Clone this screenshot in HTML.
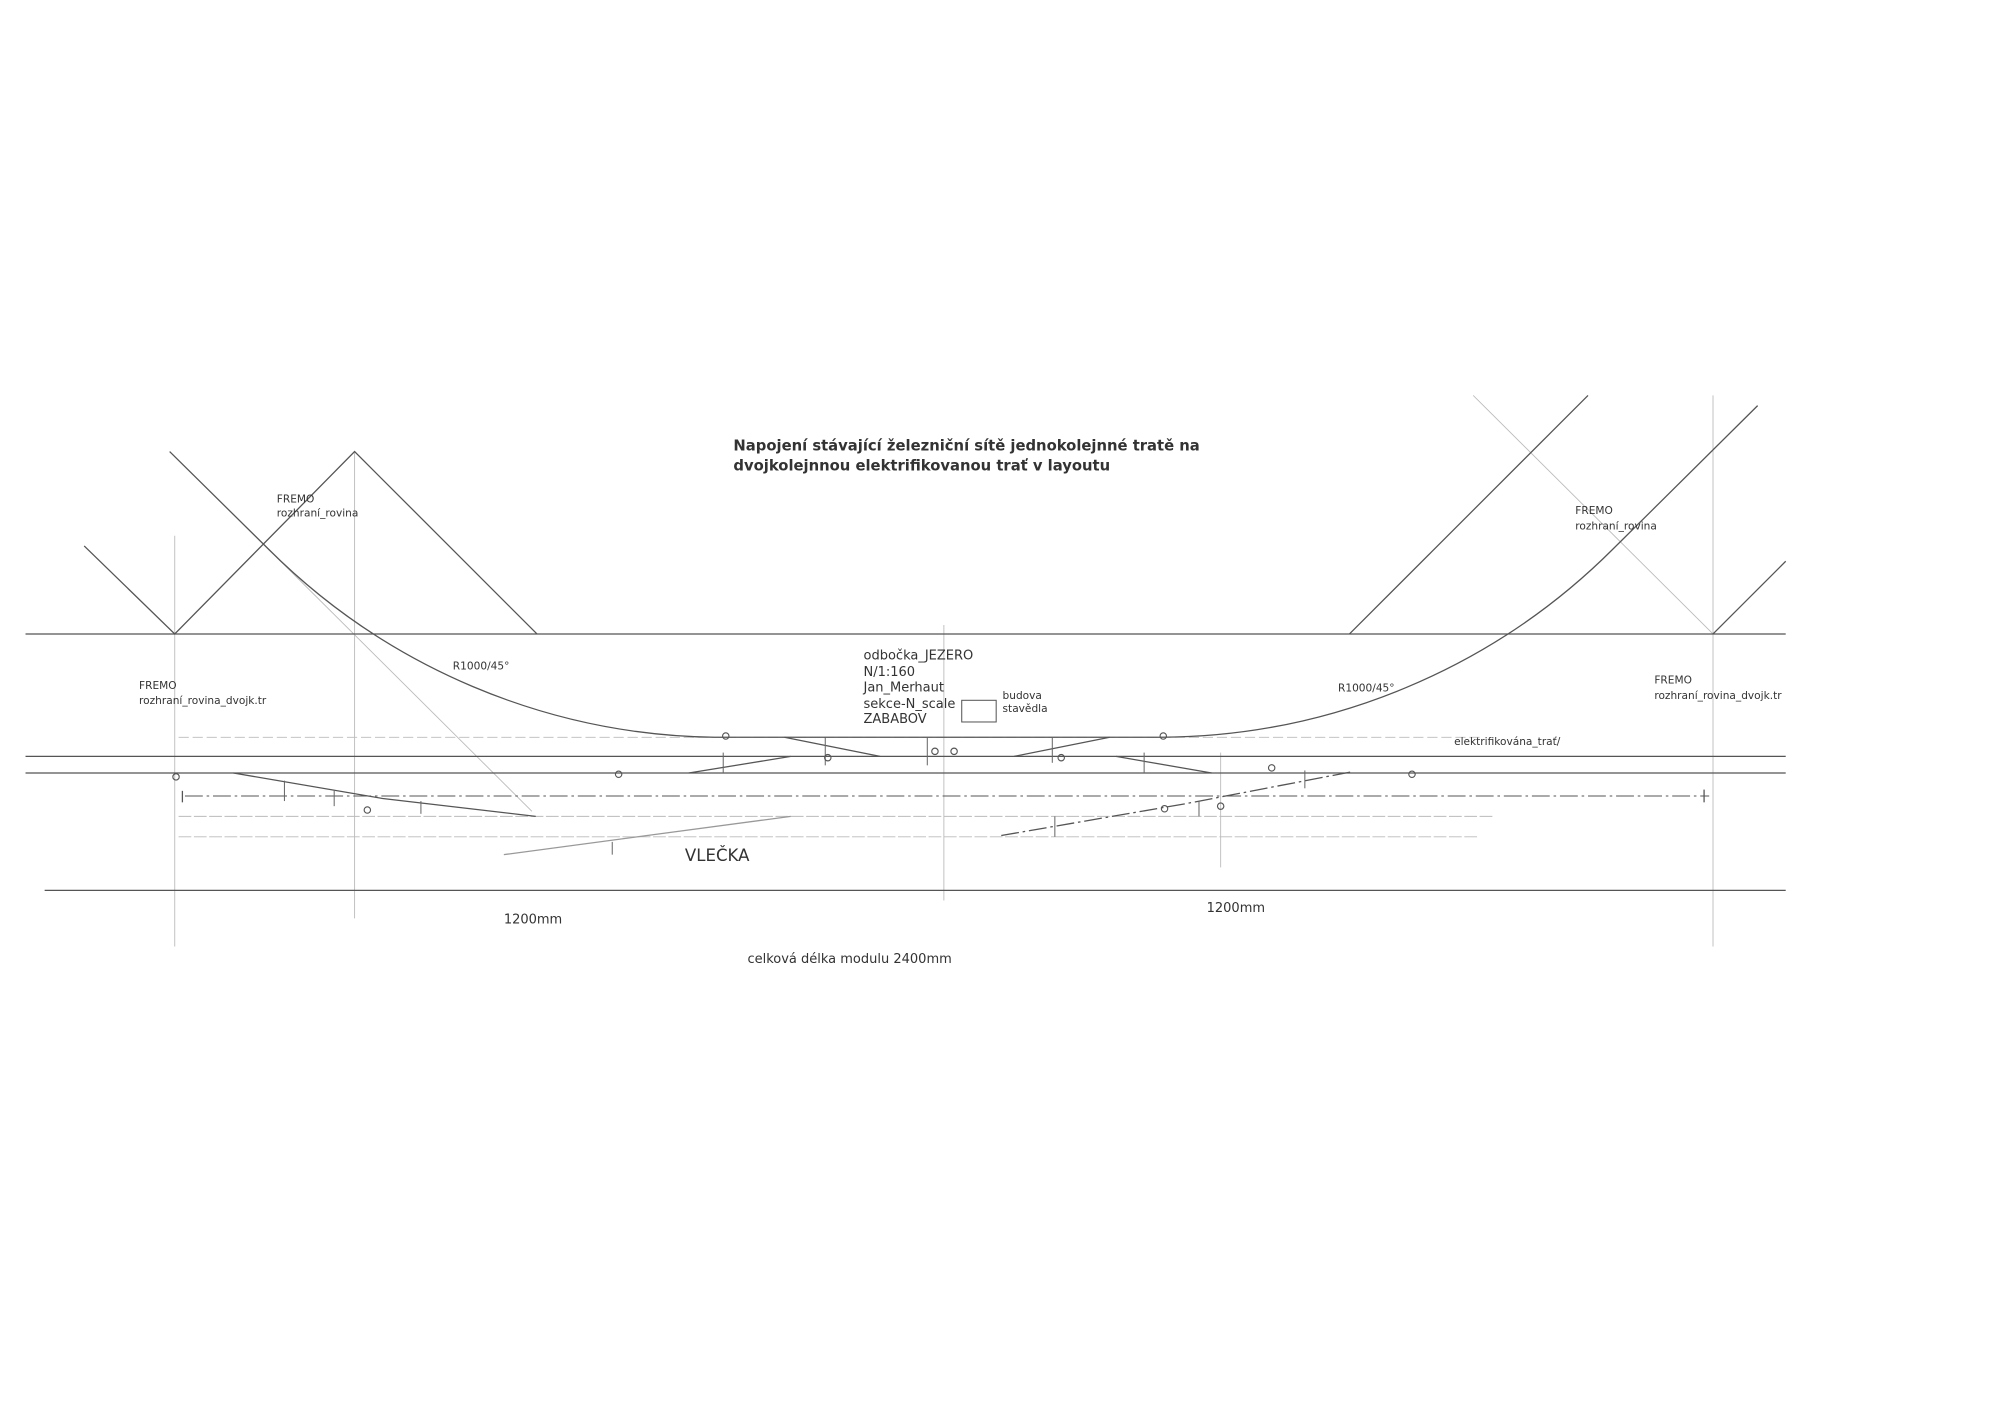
<!DOCTYPE html>
<html><head><meta charset="utf-8"><style>
html,body{margin:0;padding:0;background:#fff;}
svg{display:block;}
text{font-family:"DejaVu Sans","Liberation Sans",sans-serif;fill:#333;}
</style></head><body>
<svg width="2000" height="1415" viewBox="0 0 1568 1109.3" preserveAspectRatio="none" xmlns="http://www.w3.org/2000/svg">
<rect width="1568" height="1110" fill="#fff"/>
<g stroke="#bbb" stroke-width="0.7" fill="none">
<line x1="137" y1="420" x2="137" y2="742"/>
<line x1="278" y1="354" x2="278" y2="720"/>
<line x1="1343" y1="310" x2="1343" y2="742"/>
<line x1="740" y1="490" x2="740" y2="706"/>
<line x1="957" y1="590" x2="957" y2="680"/>
<line x1="137" y1="497" x2="278" y2="354"/>
<line x1="210" y1="430" x2="417" y2="636"/>
<line x1="1155" y1="310" x2="1343" y2="497"/>
<line x1="140" y1="640" x2="1170" y2="640" stroke-dasharray="10 2"/>
<line x1="140" y1="656" x2="1160" y2="656" stroke-dasharray="10 2"/>
<line x1="140" y1="578" x2="1160" y2="578" stroke-dasharray="8 3"/>
</g>
<g stroke="#555" stroke-width="1" fill="none">
<line x1="20" y1="497" x2="1400" y2="497"/>
<polyline points="66,428 137,497 278,354 421,497"/>
<polyline points="1058,497 1245,310"/>
<polyline points="1343,497 1400,440"/>
<line x1="20" y1="593" x2="1400" y2="593"/>
<line x1="20" y1="606" x2="1400" y2="606"/>
<line x1="35" y1="698" x2="1400" y2="698"/>
<path d="M133,354 L210,430 A505,505 0 0 0 560,578 L910,578 A505,505 0 0 0 1265,430 L1378,318"/>
<line x1="145" y1="624" x2="1340" y2="624" stroke-dasharray="14 3 2 3" stroke-width="0.8"/>
<polyline points="183,606 300,626 420,640"/>
<line x1="540" y1="606" x2="620" y2="593"/>
<line x1="615" y1="578" x2="690" y2="593"/>
<line x1="795" y1="593" x2="870" y2="578"/>
<line x1="875" y1="593" x2="950" y2="606"/>
<line x1="395" y1="670" x2="620" y2="640" stroke="#999"/>
<polyline points="785,655 930,630 1060,605" stroke-dasharray="14 3 2 3"/>
<line x1="143" y1="620" x2="143" y2="629"/>
<line x1="1336" y1="619" x2="1336" y2="629"/>
</g>
<g stroke="#666" stroke-width="0.8">
<line x1="223" y1="612" x2="223" y2="628"/><line x1="262" y1="620" x2="262" y2="632"/>
<line x1="330" y1="628" x2="330" y2="638"/><line x1="567" y1="590" x2="567" y2="606"/>
<line x1="647" y1="578" x2="647" y2="600"/><line x1="727" y1="578" x2="727" y2="600"/>
<line x1="825" y1="578" x2="825" y2="598"/><line x1="897" y1="590" x2="897" y2="606"/>
<line x1="1023" y1="604" x2="1023" y2="618"/><line x1="940" y1="628" x2="940" y2="640"/>
<line x1="827" y1="640" x2="827" y2="656"/><line x1="480" y1="660" x2="480" y2="670"/>
</g>
<g fill="none" stroke="#555" stroke-width="0.9">
<circle cx="138" cy="609" r="2.5"/><circle cx="288" cy="635" r="2.5"/><circle cx="485" cy="607" r="2.5"/>
<circle cx="569" cy="577" r="2.5"/><circle cx="649" cy="594" r="2.5"/><circle cx="733" cy="589" r="2.5"/>
<circle cx="748" cy="589" r="2.5"/><circle cx="832" cy="594" r="2.5"/><circle cx="912" cy="577" r="2.5"/>
<circle cx="997" cy="602" r="2.5"/><circle cx="913" cy="634" r="2.5"/><circle cx="957" cy="632" r="2.5"/>
<circle cx="1107" cy="607" r="2.5"/>
</g>
<rect x="754" y="549" width="27" height="17" fill="none" stroke="#555" stroke-width="0.8"/>
<text x="575" y="353" font-size="11.6" font-weight="bold">Napojení stávající železniční sítě jednokolejnné tratě  na</text>
<text x="575" y="369" font-size="11.6" font-weight="bold">dvojkolejnnou elektrifikovanou trať v layoutu</text>
<g font-size="8.3">
<text x="217" y="394">FREMO</text><text x="217" y="405">rozhraní_rovina</text>
<text x="109" y="540">FREMO</text><text x="109" y="552">rozhraní_rovina_dvojk.tr</text>
<text x="355" y="525">R1000/45°</text>
<text x="1049" y="542">R1000/45°</text>
<text x="1235" y="403">FREMO</text><text x="1235" y="415">rozhraní_rovina</text>
<text x="1297" y="536">FREMO</text><text x="1297" y="548">rozhraní_rovina_dvojk.tr</text>
<text x="786" y="548">budova</text><text x="786" y="558">stavědla</text>
<text x="1140" y="584">elektrifikována_trať/</text>
</g>
<g font-size="10.2">
<text x="677" y="517">odbočka_JEZERO</text>
<text x="677" y="530">N/1:160</text>
<text x="677" y="542">Jan_Merhaut</text>
<text x="677" y="555">sekce-N_scale</text>
<text x="677" y="567">ZABABOV</text>
<text x="395" y="724">1200mm</text>
<text x="946" y="715">1200mm</text>
<text x="586" y="755">celková délka modulu 2400mm</text>
</g>
<text x="537" y="675" font-size="13">VLEČKA</text>
</svg>
</body></html>
